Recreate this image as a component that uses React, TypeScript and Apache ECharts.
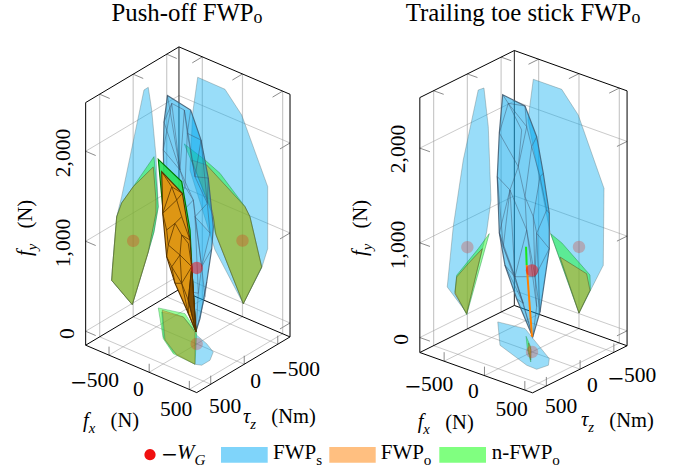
import React, { useEffect, useRef } from "react";
import * as echarts from "echarts";

// ---------- tick labels ----------
const FX_TICKS = [-500, 0, 500];
const TAU_TICKS = [-500, 0, 500];
const FY_TICKS = [0, 1000, 2000];

// ---------- Push-off values ----------
// left wall: [tau, fy]; right wall: [fx, fy]; floor: [fx, tau]
const PUSH_L_S = [[-161,2294],[-225,2295],[-276,2021],[-340,1481],[-374,902],[-310,650],[-225,466],[13,-14],[321,393],[309,525],[246,1067],[172,1257],[97,1487]];
const PUSH_L_N = [[-310,1487],[-351,1135],[-374,902],[-310,650],[-225,466],[13,-14],[321,393],[309,525],[246,1067],[172,1187],[-1,1291]];
const PUSH_L_O = [[-300,1377],[-340,992],[-340,848],[-225,466],[13,-14],[321,393],[309,525],[246,1067],[172,1187],[-1,1291]];
const PUSH_R_S = [[-558,2292],[-218,2288],[-10,2082],[314,1409],[314,720],[239,477],[10,-8],[-342,456],[-654,1225],[-620,1872]];
const PUSH_R_N = [[-725,1488],[-467,1408],[-280,1331],[31,1079],[93,991],[239,488],[10,-8],[-342,655],[-367,857]];
const PUSH_R_O = [[-632,1344],[-446,1360],[31,1079],[93,991],[239,488],[10,-8],[-330,627],[-364,817]];
const PUSH_F_S = [[69,-66],[218,14],[295,155],[295,279],[235,307],[-75,264],[-328,106],[-643,-248],[-426,-311],[-211,-202],[-106,-127]];
const PUSH_F_N = [[-717,-286],[-454,-369],[-146,-175],[235,307],[-52,287],[-307,131]];
const PUSH_F_O = [[-660,-277],[-426,-311],[-158,-164],[235,307],[-11,284],[-279,139]];
// hull vertices: [fx, fy]
const PUSH_S_NODES = [[-364,2466],[-75,2415],[54,2131],[144,1743],[207,1227],[187,974],[125,581],[41,141],[-9,-18],[-208,366],[-395,961],[-416,1841],[-407,2155],[-311,2400],[-154,2385],[-117,2141],[-208,1699],[-21,1695],[-146,1537],[-42,1428],[132,1458],[-21,1251],[62,727],[166,1141],[20,416],[103,409]];
const PUSH_S_OUTLINE = [0,1,2,3,4,5,6,7,8,9,10,11,12];
const PUSH_S_EDGES = [[0,16],[13,16],[13,14],[14,15],[15,2],[15,17],[14,17],[17,3],[16,18],[18,19],[17,20],[19,21],[20,23],[21,22],[23,22],[22,24],[22,25],[25,8],[24,8],[21,24],[11,16],[12,13],[2,20],[3,20],[15,18],[11,13],[16,19],[19,22],[20,21],[1,15],[12,16],[14,16],[2,17],[10,18],[10,19],[21,23],[9,24],[6,25],[5,22]];
const PUSH_S_FACETS = [[14,15,2,1],[15,17,3,2],[17,20,4,3],[20,23,5,4],[19,22,23,21],[22,25,7,24]];
const PUSH_N_NODES = [[-478,1714],[-187,1577],[-83,1079],[-46,427],[-9,-22],[-416,1141]];
const PUSH_O_NODES = [[-436,1593],[-179,1451],[-83,968],[-62,680],[-9,-22],[-105,146],[-270,416],[-374,672],[-423,1135],[-270,1082],[-187,984],[-354,810],[-208,754],[-105,923],[-311,584],[-187,448],[-105,293],[-249,1350],[-311,1473],[-187,1188],[-374,969]];
const PUSH_O_OUTLINE = [0,1,2,3,4,5,6,7,8];
const PUSH_O_EDGES = [[0,18],[18,1],[18,17],[17,1],[17,19],[19,2],[19,9],[9,20],[20,8],[8,18],[17,8],[9,10],[10,2],[10,13],[13,3],[10,12],[12,3],[9,11],[11,20],[11,7],[11,12],[12,14],[14,7],[14,6],[14,15],[12,15],[15,3],[15,16],[16,3],[16,5],[16,4],[15,5],[6,15],[5,4],[3,4]];
const PUSH_WG = 689;

// ---------- Trailing toe stick values ----------
const TRAIL_L_S = [[-161,2307],[-246,2298],[-310,1867],[-350,1078],[-286,763],[10,13],[298,390],[209,995],[61,1646]];
const TRAIL_L_N = [[-324,732],[10,-5],[184,297],[158,464],[-161,631]];
const TRAIL_L_O = [[-221,610],[10,5],[184,279],[158,446],[-13,526]];
const TRAIL_R_S = [[-566,2302],[-214,2303],[-9,2094],[310,1417],[301,602],[0,6],[-359,752],[-632,1852]];
const TRAIL_R_N = [[-351,737],[-211,681],[136,449],[142,293],[0,6]];
const TRAIL_R_O = [[-235,526],[95,450],[136,287],[0,6]];
const TRAIL_F_S = [[-682,-308],[-388,-361],[-219,-258],[222,9],[311,129],[285,271],[155,263],[-328,82]];
const TRAIL_F_N = [[-270,-235],[-81,-79],[136,181],[-82,-28]];
const TRAIL_F_O = [[-155,-134],[-36,-29],[107,147],[-54,-13]];
const TRAIL_S_NODES = [[-363,2448],[-87,2413],[58,2133],[140,1771],[214,1372],[214,998],[99,295],[9,3],[-190,346],[-335,655],[-405,975],[-430,1562],[-405,2031],[-294,2378],[-128,2147],[-66,2201],[-4,2009],[-170,1747],[99,1723],[-273,1469],[-87,1455],[16,1276],[182,1397],[-356,845],[-66,1110],[-211,572],[37,648],[-108,323],[58,338],[58,1113]];
const TRAIL_S_OUTLINE = [0,1,2,3,4,5,6,7,8,9,10,11,12];
const TRAIL_S_EDGES = [[0,13],[13,1],[13,14],[13,15],[1,15],[15,16],[16,2],[16,18],[18,3],[14,17],[15,17],[17,19],[17,20],[16,20],[20,21],[18,21],[18,22],[22,4],[11,19],[11,23],[19,23],[19,24],[20,24],[21,29],[22,29],[29,5],[24,25],[23,25],[24,26],[29,26],[26,6],[25,27],[26,28],[27,7],[28,7],[12,13],[12,17],[10,23],[9,25],[8,27],[5,26],[25,26],[23,27],[25,7],[24,28],[29,6],[21,26],[19,25],[10,19],[9,27],[10,25]];
const TRAIL_S_FACETS = [[15,16,2,1],[16,18,3,2],[18,22,4,3],[18,21,29,22],[22,29,5,4],[29,26,6,5]];
const TRAIL_N_LINE = [[-74,931],[-66,740]];
const TRAIL_O_LINE = [[-66,740],[0,3]];
const TRAIL_WG = 704;

// ---------- scene set-up ----------
const PUSH_VIEW = { ox: 196.7, oy: 330, fxX: 0.0803, fxY: 0.03427, tauX: -0.06703, tauY: 0.04, fyY: -0.09, fxMin: -791, fxMax: 592, tauMin: -683, tauMax: 709, fyMin: -155, fyMax: 2541 };
const TRAIL_VIEW = { ox: 532, oy: 337, fxX: 0.0807, fxY: 0.02886, tauX: -0.0675, tauY: 0.0336, fyY: -0.0947, fxMin: -801, fxMax: 596, tauMin: -696, tauMax: 704, fyMin: -158, fyMax: 2534 };

const BLUE_WALL = "rgba(0,170,240,0.4)";
const GREEN_FILL = "rgba(0,255,0,0.4)";
const ORANGE_FILL = "rgba(255,128,0,0.38)";
const WALL_EDGE = "rgba(90,110,110,0.4)";
const GRID = "rgba(150,150,150,0.5)";
const SERIF = '"Liberation Serif"';

type Item = { pts: number[][]; fill?: string; stroke?: string; lw?: number };

function buildPanel(v: any, d: any): Item[] {
  const P = (fx: number, tau: number, fy: number) => [
    v.ox + v.fxX * fx + v.tauX * tau,
    v.oy + v.fxY * fx + v.tauY * tau + v.fyY * fy,
  ];
  const items: Item[] = [];
  const line = (a: number[], b: number[], stroke: string, lw = 1) => items.push({ pts: [a, b], stroke, lw });
  const poly = (pts: number[][], fill: string, stroke = WALL_EDGE, lw = 0.9) => items.push({ pts, fill, stroke, lw });
  const { fxMin, fxMax, tauMin, tauMax, fyMin, fyMax } = v;
  const tickFx = 125, tickTau = 150, tickFy = 95;

  // grid on the walls and the floor, with their small ticks
  for (const fy of FY_TICKS) {
    line(P(fxMin, tauMax, fy), P(fxMin, tauMin, fy), GRID);
    line(P(fxMin, tauMin, fy), P(fxMax, tauMin, fy), GRID);
    line(P(fxMin, tauMax, fy), P(fxMin + tickFx, tauMax, fy), "rgba(110,110,110,0.8)");
    line(P(fxMax, tauMin, fy), P(fxMax, tauMin + tickTau, fy), "rgba(110,110,110,0.8)");
  }
  for (const fx of FX_TICKS) {
    line(P(fx, tauMin, fyMin), P(fx, tauMin, fyMax), GRID, 1.2);
    line(P(fx, tauMin, fyMin), P(fx, tauMax, fyMin), GRID);
    line(P(fx, tauMin, fyMax), P(fx, tauMin + tickTau, fyMax), "rgba(110,110,110,0.8)");
    line(P(fx, tauMax, fyMin), P(fx, tauMax, fyMin + tickFy), "rgba(110,110,110,0.8)");
  }
  for (const tau of TAU_TICKS) {
    line(P(fxMin, tau, fyMin), P(fxMin, tau, fyMax), GRID, 1.2);
    line(P(fxMin, tau, fyMin), P(fxMax, tau, fyMin), GRID);
    line(P(fxMin, tau, fyMax), P(fxMin + tickFx, tau, fyMax), "rgba(110,110,110,0.8)");
    line(P(fxMax, tau, fyMin), P(fxMax, tau, fyMin + tickFy), "rgba(110,110,110,0.8)");
  }
  // back edges of the box
  line(P(fxMin, tauMax, fyMin), P(fxMin, tauMin, fyMin), "#000");
  line(P(fxMin, tauMin, fyMin), P(fxMax, tauMin, fyMin), "#000");
  line(P(fxMin, tauMin, fyMin), P(fxMin, tauMin, fyMax), "#222");

  // shadows on the walls and floor
  const L = (a: number[][]) => a.map(([t, y]) => P(fxMin, t, y));
  const R = (a: number[][]) => a.map(([x, y]) => P(x, tauMin, y));
  const F = (a: number[][]) => a.map(([x, t]) => P(x, t, fyMin));
  poly(L(d.lS), BLUE_WALL); poly(L(d.lN), GREEN_FILL, "rgba(30,140,70,0.5)"); poly(L(d.lO), ORANGE_FILL, "rgba(90,90,40,0.6)");
  poly(R(d.rS), BLUE_WALL); poly(R(d.rN), GREEN_FILL, "rgba(30,140,70,0.5)"); poly(R(d.rO), ORANGE_FILL, "rgba(90,90,40,0.6)");
  poly(F(d.fS), BLUE_WALL); poly(F(d.fN), GREEN_FILL, "rgba(30,140,70,0.4)"); poly(F(d.fO), ORANGE_FILL, "rgba(90,90,40,0.4)");

  // -W_G shadows
  items.push({ pts: [P(fxMin, 0, d.wg)], fill: "rgba(230,40,20,0.28)" });
  items.push({ pts: [P(0, tauMin, d.wg)], fill: "rgba(230,40,20,0.28)" });
  items.push({ pts: [P(0, 0, fyMin)], fill: "rgba(230,40,20,0.28)" });

  // FWP_s hull
  const Q = (n: number[]) => P(n[0], 0, n[1]);
  const pick = (nodes: number[][], idx: number[]) => idx.map((i) => Q(nodes[i]));
  poly(pick(d.sNodes, d.sOutline), "rgba(0,165,235,0.52)", "rgba(70,95,115,0.9)", 1.2);
  for (const f of d.sFacets) poly(pick(d.sNodes, f), "rgba(0,175,250,0.16)", "rgba(0,0,0,0)", 0);
  for (const [a, b] of d.sEdges) line(Q(d.sNodes[a]), Q(d.sNodes[b]), "rgba(60,80,105,0.5)", 0.9);

  // n-FWP_o and FWP_o hulls
  if (d.nNodes) {
    poly(d.nNodes.map(Q), "rgba(40,225,90,0.9)", "rgba(0,120,0,1)", 1.2);
    poly(pick(d.oNodes, d.oOutline), "rgba(222,150,20,1)", "rgba(85,50,0,1)", 1.1);
    poly(pick(d.oNodes, [3, 4, 16]), "rgba(110,65,0,0.85)", "rgba(85,50,0,1)", 1);
    for (const [a, b] of d.oEdges) line(Q(d.oNodes[a]), Q(d.oNodes[b]), "rgba(85,50,0,0.85)", 0.9);
  }
  if (d.nLine) items.push({ pts: d.nLine.map(Q), stroke: "#19e619", lw: 2 });
  if (d.oLine) items.push({ pts: d.oLine.map(Q), stroke: "#ff8000", lw: 2 });

  items.push({ pts: [P(0, 0, d.wg)], fill: "rgba(235,20,30,0.55)" });

  // front edges of the box
  const top = [P(fxMin, tauMax, fyMax), P(fxMin, tauMin, fyMax), P(fxMax, tauMin, fyMax)];
  items.push({ pts: top, stroke: "#000", lw: 1 });
  line(P(fxMin, tauMax, fyMin), P(fxMin, tauMax, fyMax), "#000");
  line(P(fxMax, tauMin, fyMin), P(fxMax, tauMin, fyMax), "#000");
  items.push({ pts: [P(fxMin, tauMax, fyMin), P(fxMax, tauMax, fyMin), P(fxMax, tauMin, fyMin)], stroke: "#000", lw: 1 });
  return items;
}

const ITEMS: Item[] = [
  ...buildPanel(PUSH_VIEW, { lS: PUSH_L_S, lN: PUSH_L_N, lO: PUSH_L_O, rS: PUSH_R_S, rN: PUSH_R_N, rO: PUSH_R_O, fS: PUSH_F_S, fN: PUSH_F_N, fO: PUSH_F_O, sNodes: PUSH_S_NODES, sOutline: PUSH_S_OUTLINE, sEdges: PUSH_S_EDGES, sFacets: PUSH_S_FACETS, nNodes: PUSH_N_NODES, oNodes: PUSH_O_NODES, oOutline: PUSH_O_OUTLINE, oEdges: PUSH_O_EDGES, wg: PUSH_WG }),
  ...buildPanel(TRAIL_VIEW, { lS: TRAIL_L_S, lN: TRAIL_L_N, lO: TRAIL_L_O, rS: TRAIL_R_S, rN: TRAIL_R_N, rO: TRAIL_R_O, fS: TRAIL_F_S, fN: TRAIL_F_N, fO: TRAIL_F_O, sNodes: TRAIL_S_NODES, sOutline: TRAIL_S_OUTLINE, sEdges: TRAIL_S_EDGES, sFacets: TRAIL_S_FACETS, nLine: TRAIL_N_LINE, oLine: TRAIL_O_LINE, wg: TRAIL_WG }),
];

const RICH = (size: number, lh: number) => ({
  a: { fontFamily: SERIF, fontSize: size, lineHeight: lh, verticalAlign: "top", fill: "#000" },
  m: { fontFamily: SERIF, fontSize: size * 1.3, lineHeight: lh, verticalAlign: "top", fill: "#000" },
  i: { fontFamily: SERIF, fontSize: size, lineHeight: lh, verticalAlign: "top", fontStyle: "italic", fill: "#000" },
  s: { fontFamily: SERIF, fontSize: size * 0.72, verticalAlign: "bottom", fill: "#000" },
  si: { fontFamily: SERIF, fontSize: size * 0.72, verticalAlign: "bottom", fontStyle: "italic", fill: "#000" },
});

function txt(text: string, x: number, y: number, size: number, rotation = 0, align = "center", lh = size + 5) {
  return { type: "text", x, y, rotation, silent: true, style: { text, rich: RICH(size, lh), align, verticalAlign: "middle", fontFamily: SERIF, fontSize: size, fill: "#000" } };
}
const fmt = (v: number) => (v === 0 ? "{a|0}" : v < 0 ? "{m|\u2212}{a|" + Math.abs(v) + "}" : v >= 1000 ? "{a|" + String(v).replace(/(\d)(\d{3})$/, "$1,$2") + "}" : "{a|" + v + "}");

const TICK = 21.5;
const AX = 20.5;
const LG = 21;
const TEXTS = [
  txt("{a|Push-off FWP}{s|o}", 187, 13, 24.8, 0, "center", 26),
  txt("{a|Trailing toe stick FWP}{s|o}", 523, 13, 24.8, 0, "center", 26),
  txt(fmt(FX_TICKS[0]), 95, 382, TICK), txt(fmt(FX_TICKS[1]), 138.3, 391.3, TICK), txt(fmt(FX_TICKS[2]), 176, 411.3, TICK),
  txt(fmt(TAU_TICKS[2]), 225, 408, TICK), txt(fmt(TAU_TICKS[1]), 255.7, 383.7, TICK), txt(fmt(TAU_TICKS[0]), 296, 371.3, TICK),
  txt(fmt(FY_TICKS[0]), 69, 333.7, TICK, Math.PI / 2), txt(fmt(FY_TICKS[1]), 65, 243, TICK, Math.PI / 2), txt(fmt(FY_TICKS[2]), 65, 153, TICK, Math.PI / 2),
  txt("{i|f}{si|x}{a|   (N)}", 111, 422.7, AX), txt("{i|\u03c4}{si|z}{a|   (Nm)}", 279.3, 418.7, AX), txt("{i|f}{si|y}{a|   (N)}", 27, 228, AX, Math.PI / 2),
  txt(fmt(FX_TICKS[0]), 429.3, 386, TICK), txt(fmt(FX_TICKS[1]), 473.3, 393.3, TICK), txt(fmt(FX_TICKS[2]), 511.7, 411.3, TICK),
  txt(fmt(TAU_TICKS[2]), 561, 408, TICK), txt(fmt(TAU_TICKS[1]), 592.3, 387, TICK), txt(fmt(TAU_TICKS[0]), 632.3, 377.7, TICK),
  txt(fmt(FY_TICKS[0]), 403.3, 339.3, TICK, Math.PI / 2), txt(fmt(FY_TICKS[1]), 400, 245, TICK, Math.PI / 2), txt(fmt(FY_TICKS[2]), 400, 149, TICK, Math.PI / 2),
  txt("{i|f}{si|x}{a|   (N)}", 445.7, 424, AX), txt("{i|\u03c4}{si|z}{a|   (Nm)}", 617.3, 422, AX), txt("{i|f}{si|y}{a|   (N)}", 362, 228, AX, Math.PI / 2),
  txt("{m|\u2212}{i|W}{si|G}", 161.7, 454, LG, 0, "left"),
  txt("{a|FWP}{s|s}", 273, 454, LG, 0, "left"),
  txt("{a|FWP}{s|o}", 380.7, 454, LG, 0, "left"),
  txt("{a|n-FWP}{s|o}", 491.7, 454, LG, 0, "left"),
];
const LEGEND = [
  { type: "circle", silent: true, shape: { cx: 150, cy: 454.7, r: 5.6 }, style: { fill: "#f01010" } },
  { type: "rect", silent: true, shape: { x: 221, y: 447, width: 46.7, height: 15.7 }, style: { fill: "#7fd4fa" } },
  { type: "rect", silent: true, shape: { x: 329.3, y: 447, width: 46.4, height: 15.7 }, style: { fill: "#ffbf80" } },
  { type: "rect", silent: true, shape: { x: 439.3, y: 447, width: 46.7, height: 15.7 }, style: { fill: "#80ff80" } },
];

export default function App() {
  const ref = useRef<HTMLDivElement>(null);
  useEffect(() => {
    const chart = echarts.init(ref.current!, undefined, { renderer: "svg" });
    chart.setOption({
      animation: false,
      backgroundColor: "#fff",
      grid: { left: 0, right: 0, top: 0, bottom: 0 },
      xAxis: { type: "value", min: 0, max: 679, show: false },
      yAxis: { type: "value", min: 0, max: 472, inverse: true, show: false },
      graphic: [...LEGEND, ...TEXTS],
      series: [
        {
          type: "custom",
          coordinateSystem: "cartesian2d",
          clip: false,
          silent: true,
          data: ITEMS.map((it) => it.pts[0]),
          renderItem: (params: any, api: any) => {
            const it = ITEMS[params.dataIndex];
            const pts = it.pts.map((p) => api.coord(p));
            if (pts.length === 1) {
              return { type: "circle", shape: { cx: pts[0][0], cy: pts[0][1], r: 6.2 }, style: { fill: it.fill } };
            }
            if (it.fill) {
              return { type: "polygon", shape: { points: pts }, style: { fill: it.fill, stroke: it.stroke, lineWidth: it.lw } };
            }
            return { type: "polyline", shape: { points: pts }, style: { fill: "none", stroke: it.stroke, lineWidth: it.lw } };
          },
        },
      ],
    });
    return () => chart.dispose();
  }, []);
  return <div ref={ref} style={{ position: "fixed", left: 0, top: 0, width: 679, height: 472 }} />;
}
